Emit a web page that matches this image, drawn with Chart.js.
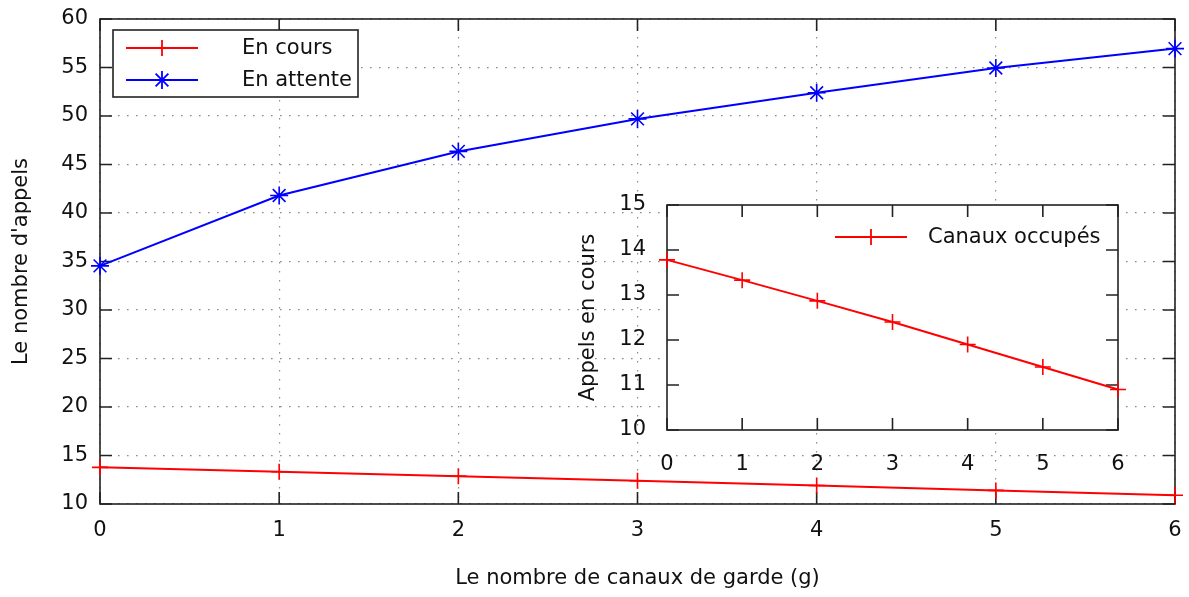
<!DOCTYPE html>
<html>
<head>
<meta charset="utf-8">
<script src="https://cdn.jsdelivr.net/npm/chart.js@4.4.1/dist/chart.umd.min.js"></script>
<style>
  html, body { margin: 0; padding: 0; background: #fff; }
  #wrap { position: relative; width: 1189px; height: 597px; }
  #mainChart { position: absolute; left: 0; top: 0; }
  #insetChart { position: absolute; left: 560px; top: 190px; }
</style>
</head>
<body>
<div id="wrap">
  <canvas id="mainChart" width="1189" height="597"></canvas>
  <canvas id="insetChart" width="600" height="300"></canvas>
</div>
<script>
// values
const gardeChannels = [0, 1, 2, 3, 4, 5, 6];
const enCours = [13.78, 13.33, 12.87, 12.4, 11.9, 11.4, 10.9];
const enAttente = [34.55, 41.8, 46.35, 49.7, 52.4, 54.95, 56.95];
const canauxOccupes = [13.78, 13.33, 12.87, 12.4, 11.9, 11.4, 10.9];

const mainXTicks = [0, 1, 2, 3, 4, 5, 6];
const mainYTicks = [10, 15, 20, 25, 30, 35, 40, 45, 50, 55, 60];
const insetYTicks = [10, 11, 12, 13, 14, 15];

const RED = "#ff0000";
const BLUE = "#0000ff";

Chart.defaults.font.family = "'DejaVu Sans', Verdana, sans-serif";
Chart.defaults.font.size = 21;
Chart.defaults.color = "#111";

const toPoints = (ys) => gardeChannels.map((x, i) => ({ x: x, y: ys[i] }));

// pin the axis box size and drop the extra label padding chart.js adds
const fixSize = (prop, v) => (s) => {
    s[prop] = v;
    s.paddingTop = 0; s.paddingBottom = 0; s.paddingLeft = 0; s.paddingRight = 0;
};

function drawCross(ctx, x, y, r) {
    ctx.beginPath();
    ctx.moveTo(x - r, y); ctx.lineTo(x + r, y);
    ctx.moveTo(x, y - r); ctx.lineTo(x, y + r);
    ctx.stroke();
}
function drawStar(ctx, x, y, r) {
    drawCross(ctx, x, y, r);
    const d = r * Math.SQRT1_2;
    ctx.beginPath();
    ctx.moveTo(x - d, y - d); ctx.lineTo(x + d, y + d);
    ctx.moveTo(x - d, y + d); ctx.lineTo(x + d, y - d);
    ctx.stroke();
}

// gnuplot style frame: full border + inward ticks on all four sides
const framePlugin = {
    id: "frame",
    beforeDatasetsDraw(chart, args, opts) {
        const { ctx, chartArea: a, scales: { x, y } } = chart;
        const len = opts.tickLen || 12;
        ctx.save();
        if (opts.fill) {
            ctx.fillStyle = opts.fill;
            ctx.fillRect(a.left, a.top, a.right - a.left, a.bottom - a.top);
        }
        ctx.strokeStyle = "#222";
        ctx.lineWidth = 1.6;
        ctx.beginPath();
        x.ticks.forEach((t) => {
            const px = x.getPixelForValue(t.value);
            ctx.moveTo(px, a.bottom); ctx.lineTo(px, a.bottom - len);
            ctx.moveTo(px, a.top); ctx.lineTo(px, a.top + len);
        });
        y.ticks.forEach((t) => {
            const py = y.getPixelForValue(t.value);
            ctx.moveTo(a.left, py); ctx.lineTo(a.left + len, py);
            ctx.moveTo(a.right, py); ctx.lineTo(a.right - len, py);
        });
        ctx.stroke();
        ctx.strokeRect(a.left, a.top, a.right - a.left, a.bottom - a.top);
        ctx.restore();
    },
};

// legend drawn inside the plot, gnuplot style
const keyPlugin = {
    id: "key",
    afterDraw(chart, args, opts) {
        const ctx = chart.ctx;
        ctx.save();
        if (opts.box) {
            const b = opts.box;
            ctx.fillStyle = "#fff";
            ctx.fillRect(b.x, b.y, b.w, b.h);
            ctx.strokeStyle = "#222";
            ctx.lineWidth = 1.6;
            ctx.strokeRect(b.x, b.y, b.w, b.h);
        }
        chart.data.datasets.forEach((ds, i) => {
            const yy = opts.y + i * opts.rowH;
            ctx.strokeStyle = ds.borderColor;
            ctx.lineWidth = 1.8;
            ctx.beginPath();
            ctx.moveTo(opts.x1, yy); ctx.lineTo(opts.x2, yy);
            ctx.stroke();
            const cx = (opts.x1 + opts.x2) / 2;
            if (ds.pointStyle === "star") drawStar(ctx, cx, yy, ds.pointRadius);
            else drawCross(ctx, cx, yy, ds.pointRadius);
            ctx.fillStyle = "#111";
            ctx.font = "21px 'DejaVu Sans', Verdana, sans-serif";
            ctx.textBaseline = "middle";
            ctx.textAlign = "left";
            ctx.fillText(ds.label, opts.textX, yy + 1);
        });
        ctx.restore();
    },
};

const gridStyle = { color: "#8c8c8c", lineWidth: 1.2, drawTicks: false };

new Chart(document.getElementById("mainChart"), {
    type: "line",
    data: {
        datasets: [
            {
                label: "En cours",
                data: toPoints(enCours),
                borderColor: RED,
                backgroundColor: RED,
                borderWidth: 2,
                pointStyle: "cross",
                pointRadius: 8,
                pointBorderWidth: 1.6,
                clip: false,
            },
            {
                label: "En attente",
                data: toPoints(enAttente),
                borderColor: BLUE,
                backgroundColor: BLUE,
                borderWidth: 2,
                pointStyle: "star",
                pointRadius: 9,
                pointBorderWidth: 1.6,
                clip: false,
            },
        ],
    },
    options: {
        responsive: false,
        animation: false,
        layout: { padding: { top: 19, right: 14, left: 0, bottom: 0 } },
        scales: {
            x: {
                type: "linear",
                min: 0,
                max: 6,
                afterBuildTicks: (s) => { s.ticks = mainXTicks.map((v) => ({ value: v })); },
                afterFit: fixSize("height", 93),
                ticks: { padding: 14, color: "#111" },
                grid: gridStyle,
                border: { display: false, dash: [1.6, 7.4] },
                title: { display: true, text: "Le nombre de canaux de garde (g)", color: "#111", padding: { bottom: 6 } },
            },
            y: {
                type: "linear",
                min: 10,
                max: 60,
                afterBuildTicks: (s) => { s.ticks = mainYTicks.map((v) => ({ value: v })); },
                afterFit: fixSize("width", 100),
                ticks: { padding: 12, color: "#111" },
                grid: gridStyle,
                border: { display: false, dash: [1.6, 7.4] },
                title: { display: true, text: "Le nombre d'appels", color: "#111", padding: { top: 9 } },
            },
        },
        plugins: {
            legend: { display: false },
            tooltip: { enabled: false },
            frame: { tickLen: 12 },
            key: { box: { x: 113, y: 30, w: 245, h: 67 }, x1: 126, x2: 198, y: 48, rowH: 32, textX: 242 },
        },
    },
    plugins: [framePlugin, keyPlugin],
});

new Chart(document.getElementById("insetChart"), {
    type: "line",
    data: {
        datasets: [
            {
                label: "Canaux occupés",
                data: toPoints(canauxOccupes),
                borderColor: RED,
                backgroundColor: RED,
                borderWidth: 2,
                pointStyle: "cross",
                pointRadius: 8,
                pointBorderWidth: 1.6,
                clip: false,
            },
        ],
    },
    options: {
        responsive: false,
        animation: false,
        layout: { padding: { top: 15, right: 42, left: 0, bottom: 0 } },
        scales: {
            x: {
                type: "linear",
                min: 0,
                max: 6,
                afterBuildTicks: (s) => { s.ticks = mainXTicks.map((v) => ({ value: v })); },
                afterFit: fixSize("height", 60),
                ticks: { padding: 14, color: "#111" },
                grid: { display: false },
                border: { display: false },
            },
            y: {
                type: "linear",
                min: 10,
                max: 15,
                afterBuildTicks: (s) => { s.ticks = insetYTicks.map((v) => ({ value: v })); },
                afterFit: fixSize("width", 107),
                ticks: { padding: 13, color: "#111" },
                grid: { display: false },
                border: { display: false },
                title: { display: true, text: "Appels en cours", color: "#111", padding: { top: 16 } },
            },
        },
        plugins: {
            legend: { display: false },
            tooltip: { enabled: false },
            frame: { tickLen: 12, fill: "#fff" },
            key: { x1: 275, x2: 347, y: 47, rowH: 32, textX: 368 },
        },
    },
    plugins: [framePlugin, keyPlugin],
});
</script>
</body>
</html>
